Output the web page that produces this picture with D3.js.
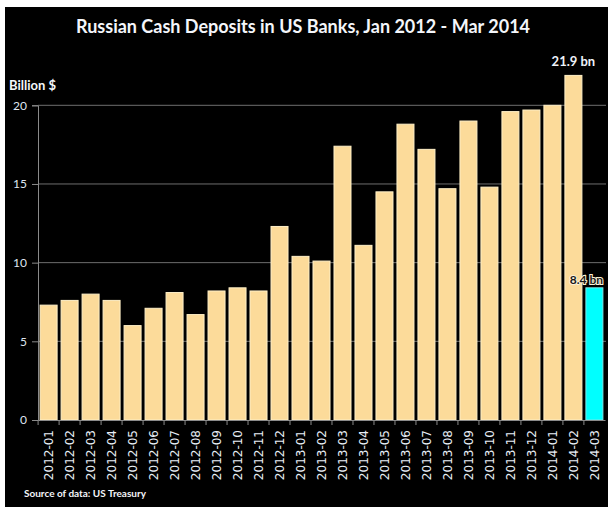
<!DOCTYPE html>
<html>
<head>
<meta charset="utf-8">
<script src="https://cdn.jsdelivr.net/npm/d3@7"></script>
<style>
  body { margin: 0; background: #fff; }
</style>
</head>
<body>
<div id="chart"></div>
<script>
// data
const months = ['2012-01','2012-02','2012-03','2012-04','2012-05','2012-06','2012-07','2012-08','2012-09',
                '2012-10','2012-11','2012-12','2013-01','2013-02','2013-03','2013-04','2013-05','2013-06',
                '2013-07','2013-08','2013-09','2013-10','2013-11','2013-12','2014-01','2014-02','2014-03'];
const deposits = [7.3, 7.6, 8.0, 7.6, 6.0, 7.1, 8.1, 6.7, 8.2,
                  8.4, 8.2, 12.3, 10.4, 10.1, 17.4, 11.1, 14.5, 18.8,
                  17.2, 14.7, 19.0, 14.8, 19.6, 19.7, 20.0, 21.9, 8.4];
const yTicks = [0, 5, 10, 15, 20];

const width = 608;
const height = 510;
const margin = {top: 105, right: 3, bottom: 90, left: 38};
const innerWidth = width - margin.left - margin.right;
const zeroY = 420;

const barColor = '#fcdb9a';
const lastColor = '#00ffff';
const font = 'Lato, "Open Sans", sans-serif';

const svg = d3.select('#chart').append('svg')
    .attr('width', width)
    .attr('height', height);

svg.append('rect')
    .attr('x', 5).attr('y', 7)
    .attr('width', 603).attr('height', 500)
    .attr('fill', '#000');

const xScale = d3.scaleBand()
    .domain(months)
    .range([margin.left, margin.left + innerWidth])
    .paddingInner(0.19)
    .paddingOuter(0.1);

const yScale = d3.scaleLinear()
    .domain([0, 20])
    .range([zeroY, 105.3]);

// gridlines
svg.append('g')
  .selectAll('line')
  .data(yTicks.filter(d => d > 0))
  .join('line')
    .attr('x1', margin.left)
    .attr('x2', width - 2)
    .attr('y1', d => yScale(d))
    .attr('y2', d => yScale(d))
    .attr('stroke', '#6e6e6e')
    .attr('stroke-width', 1);

// y axis
const yAxis = svg.append('g')
    .attr('transform', `translate(${margin.left},0)`)
    .call(d3.axisLeft(yScale).tickValues(yTicks).tickSize(6).tickPadding(5));
yAxis.select('.domain').attr('stroke', '#8a8a8a');
yAxis.selectAll('.tick line').attr('stroke', '#8a8a8a');
yAxis.selectAll('.tick text')
    .attr('fill', '#dfe6f0')
    .style('font', `12px ${font}`);

// bars
svg.append('g')
  .selectAll('rect')
  .data(months)
  .join('rect')
    .attr('x', d => xScale(d))
    .attr('y', (d, i) => yScale(deposits[i]))
    .attr('width', xScale.bandwidth())
    .attr('height', (d, i) => zeroY - yScale(deposits[i]))
    .attr('fill', (d, i) => i === months.length - 1 ? lastColor : barColor)
    .attr('stroke', (d, i) => i === months.length - 1 ? '#7fe8e8' : '#fff0c8')
    .attr('stroke-width', 1);

// x axis
const xAxis = svg.append('g')
    .attr('transform', `translate(0,${zeroY})`)
    .call(d3.axisBottom(xScale).tickSize(0));
xAxis.select('.domain').attr('stroke', '#8a8a8a');
xAxis.selectAll('.tick text')
    .attr('transform', 'translate(0,10) rotate(-90)')
    .attr('x', 0)
    .attr('y', 0)
    .attr('dy', '0.35em')
    .style('text-anchor', 'end')
    .attr('fill', '#e8eef6')
    .style('font', '12px "DejaVu Sans", sans-serif');

// small separators between bars on the axis
const step = xScale.step();
svg.append('g')
  .selectAll('line')
  .data(months)
  .join('line')
    .attr('x1', d => xScale(d) - (step - xScale.bandwidth()) / 2)
    .attr('x2', d => xScale(d) - (step - xScale.bandwidth()) / 2)
    .attr('y1', zeroY)
    .attr('y2', zeroY + 5)
    .attr('stroke', '#8a8a8a');

// title and labels
svg.append('text')
    .attr('x', 303).attr('y', 33)
    .attr('text-anchor', 'middle')
    .attr('fill', '#f4f6fa')
    .style('font', `bold 18px ${font}`)
    .text('Russian Cash Deposits in US Banks, Jan 2012 - Mar 2014');

svg.append('text')
    .attr('x', 9).attr('y', 90)
    .attr('fill', '#f4f6fa')
    .style('font', `bold 13px ${font}`)
    .text('Billion $');

const last = months.length - 1;
svg.append('text')
    .attr('x', xScale(months[last - 1]) + xScale.bandwidth() / 2)
    .attr('y', yScale(deposits[last - 1]) - 9)
    .attr('text-anchor', 'middle')
    .attr('fill', '#eef2f8')
    .style('font', `bold 13px ${font}`)
    .text(`${deposits[last - 1]} bn`);

svg.append('text')
    .attr('x', width - 5)
    .attr('y', yScale(deposits[last]) - 4)
    .attr('text-anchor', 'end')
    .attr('fill', '#1a1a1a')
    .attr('stroke', '#fff3d8')
    .attr('stroke-width', 2)
    .attr('paint-order', 'stroke')
    .style('font', `bold 12px ${font}`)
    .text(`${deposits[last]} bn`);

svg.append('text')
    .attr('x', 24).attr('y', 497)
    .attr('fill', '#f4f6fa')
    .style('font', `bold 10px ${font}`)
    .text('Source of data: US Treasury');
</script>
</body>
</html>
